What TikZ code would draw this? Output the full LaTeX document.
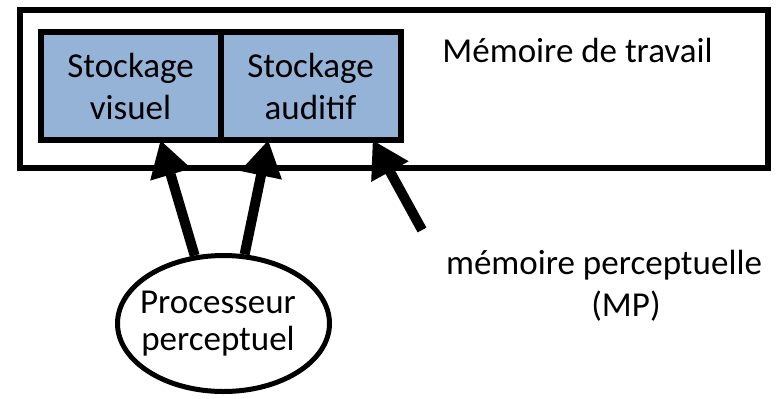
\documentclass[tikz,border=0pt]{standalone}
\usepackage{fontspec}
\setmainfont{Carlito}
\usetikzlibrary{positioning,shapes.geometric,arrows.meta}
\definecolor{storeblue}{RGB}{149,179,215}
\tikzset{
    store-box/.style = {draw=black, fill=storeblue, line width=3pt, rectangle, outer sep=0pt, inner sep=0pt, minimum width=90pt, minimum height=54pt, align=center, font=\fontsize{17.5}{21}\selectfont},
    memory-box/.style = {draw=black, line width=3pt, rectangle, outer sep=0pt, minimum width=374pt, minimum height=79pt},
    proc-ellipse/.style = {draw=black, line width=2.5pt, ellipse, inner sep=0pt, minimum width=106pt, minimum height=68pt},
    plain-label/.style = {align=center, inner sep=0pt, font=\fontsize{17.5}{21}\selectfont},
    flow/.style = {line width=5pt, -{Triangle[length=18pt,width=20pt]}},
}

\begin{document}
\begin{tikzpicture}[x=0.5pt,y=-0.5pt]
\useasboundingbox (0,0) rectangle (781,398);
% working memory with its two stores
\node [memory-box] (memory) at (394,89) {};
\node [plain-label, anchor=base] (memory-title) at (577.5,62) {Mémoire de travail};
\node [store-box] (visuel) at (130.5,86) {Stockage\\visuel};
\node [store-box, right=0pt of visuel] (auditif) {Stockage\\auditif};
% perceptual processor
\node [proc-ellipse] (proc) at (223.5,323.5) {};
\node [plain-label, font=\fontsize{17.5}{18.5}\selectfont] (proc-text) at (218,324) {Processeur\\perceptuel};
% perceptual memory
\node [plain-label] (mp) at (604,286) {mémoire perceptuelle\\\hspace*{22pt}(MP)};
\coordinate (mp-tail) at (422,230);
\draw [flow] (proc.113) -- (visuel.-61);
\draw [flow] (proc.73) -- (auditif.-128);
\draw [flow] (mp-tail) -- (auditif.-41);
\end{tikzpicture}
\end{document}
